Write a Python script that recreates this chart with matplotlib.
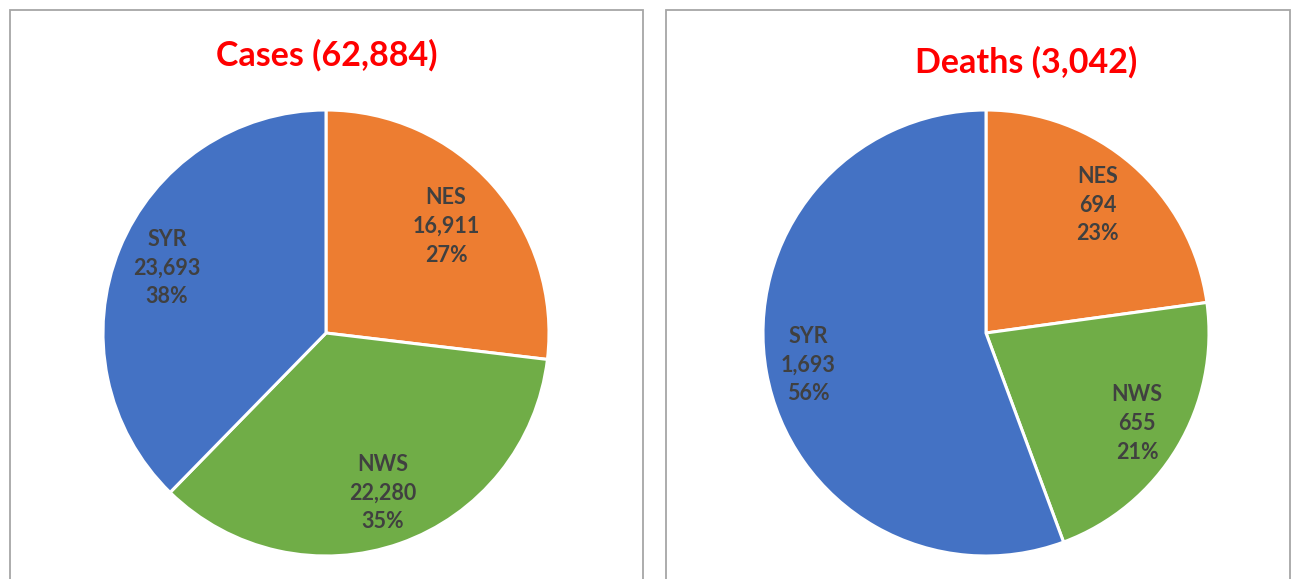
import matplotlib.pyplot as plt
import numpy as np
from matplotlib.patches import Rectangle

# data
regions = ['NES', 'NWS', 'SYR']
cases = [16911, 22280, 23693]
cases_pct = ['27%', '35%', '38%']
deaths = [694, 655, 1693]
deaths_pct = ['23%', '21%', '56%']
titles = ['Cases (62,884)', 'Deaths (3,042)']

colors = ['#ED7D31', '#70AD47', '#4472C4']
label_color = '#404040'
font = ['Lato', 'DejaVu Sans']

W, H = 1293, 579
fig = plt.figure(figsize=(W / 100, H / 100), dpi=100)


def px_axes(cx, cy, r):
    # axes box (in pixel coords from top-left) around a pie of radius r
    return fig.add_axes([(cx - r) / W, (H - cy - r) / H, 2 * r / W, 2 * r / H])


def draw_pie(ax, values, pcts, dists):
    wedges, _ = ax.pie(values, colors=colors, startangle=90, counterclock=False,
                       wedgeprops=dict(edgecolor='white', linewidth=2.2))
    for w, name, v, p, d in zip(wedges, regions, values, pcts, dists):
        ang = np.deg2rad((w.theta1 + w.theta2) / 2)
        ax.text(d * np.cos(ang), d * np.sin(ang), f'{name}\n{v:,}\n{p}',
                ha='center', va='center', fontsize=15.5, fontweight='bold',
                color=label_color, family=font, linespacing=1.45)
    ax.set_xlim(-1, 1)
    ax.set_ylim(-1, 1)
    ax.set_aspect('equal')
    ax.axis('off')


# panel borders
for x0, x1 in [(10, 643), (666, 1290)]:
    fig.add_artist(Rectangle((x0 / W, -0.1), (x1 - x0) / W, (H - 10) / H + 0.1,
                             transform=fig.transFigure, fill=False,
                             edgecolor='#A6A6A6', linewidth=1.3))

ax1 = px_axes(326, 333, 223)
draw_pie(ax1, cases, cases_pct, [0.72, 0.76, 0.77])
ax2 = px_axes(986, 333, 223)
draw_pie(ax2, deaths, deaths_pct, [0.76, 0.79, 0.81])

fig.text(327 / W, 1 - 55 / H, titles[0], ha='center', va='center', color='#FF0000',
         fontsize=24.5, fontweight='bold', family=font)
fig.text(1026 / W, 1 - 62 / H, titles[1], ha='center', va='center', color='#FF0000',
         fontsize=24.5, fontweight='bold', family=font)

fig.savefig('out.png', dpi=100)
